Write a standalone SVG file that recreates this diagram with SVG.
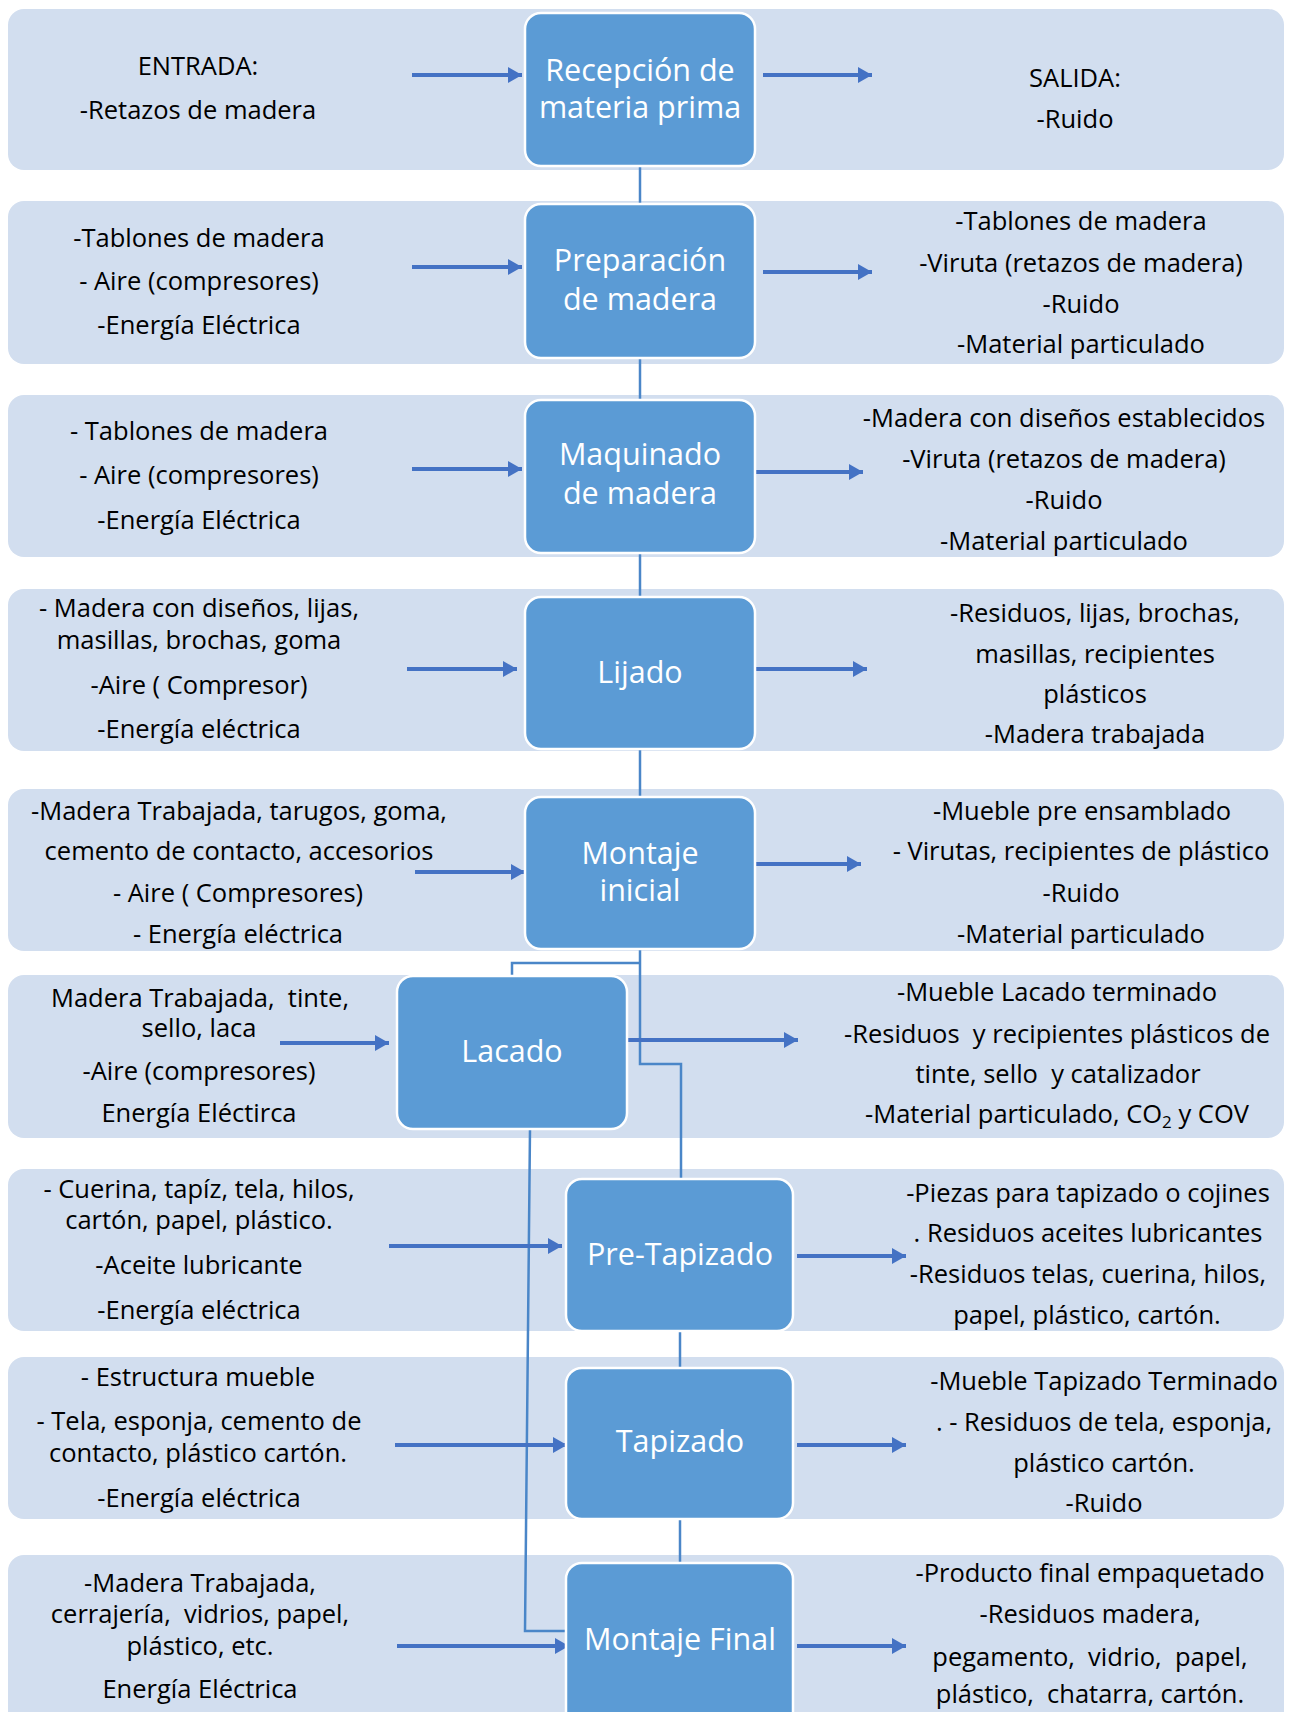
<svg xmlns="http://www.w3.org/2000/svg" width="1293" height="1712" viewBox="0 0 1293 1712" xml:space="preserve">
<style>
.band{fill:#D2DEEF}
.box{fill:#5B9BD5;stroke:#FFFFFF;stroke-width:2.5}
.t{font-family:"Open Sans","Liberation Sans",sans-serif;font-size:25.5px;fill:#000;text-anchor:middle;white-space:pre}
.b{font-family:"Open Sans","Liberation Sans",sans-serif;font-size:30.5px;fill:#FFFFFF;text-anchor:middle}
.ar{stroke:#4472C4;stroke-width:4;fill:none;marker-end:url(#ah)}
.cn{stroke:#4A86C8;stroke-width:2.5;fill:none}
</style>
<defs>
<marker id="ah" markerUnits="userSpaceOnUse" markerWidth="16" markerHeight="18" refX="14" refY="8" orient="auto">
<path d="M0,0 L14,8 L0,16 z" fill="#4472C4"/>
</marker>
<clipPath id="c4"><rect x="0" y="589" width="1293" height="160"/></clipPath>
</defs>
<rect width="1293" height="1712" fill="#FFFFFF"/>
<g id="bands">
<rect class="band" x="8" y="9" width="1276" height="161" rx="16"/>
<rect class="band" x="8" y="201" width="1276" height="163" rx="16"/>
<rect class="band" x="8" y="395" width="1276" height="162" rx="16"/>
<rect class="band" x="8" y="589" width="1276" height="162" rx="16"/>
<rect class="band" x="8" y="789" width="1276" height="162" rx="16"/>
<rect class="band" x="8" y="975" width="1276" height="163" rx="16"/>
<rect class="band" x="8" y="1169" width="1276" height="162" rx="16"/>
<rect class="band" x="8" y="1357" width="1276" height="162" rx="16"/>
<rect class="band" x="8" y="1555" width="1276" height="180" rx="16"/>
</g>
<g id="connectors">
<path class="cn" d="M640,166 V204"/>
<path class="cn" d="M640,358 V400"/>
<path class="cn" d="M640,553 V597"/>
<path class="cn" d="M640,749 V797"/>
<path class="cn" d="M640,949 V1064 H681 V1179"/>
<path class="cn" d="M640,963 H512 V976"/>
<path class="cn" d="M530,1129 L525,1631 H566"/>
<path class="cn" d="M680,1331 V1368"/>
<path class="cn" d="M680,1519 V1563"/>
<path class="ar" d="M412,75 H522"/>
<path class="ar" d="M763,75 H872"/>
<path class="ar" d="M412,267 H522"/>
<path class="ar" d="M763,272 H872"/>
<path class="ar" d="M412,469 H522"/>
<path class="ar" d="M755,472 H863"/>
<path class="ar" d="M407,669 H517"/>
<path class="ar" d="M756,669 H867"/>
<path class="ar" d="M415,872 H525"/>
<path class="ar" d="M753,864 H861"/>
<path class="ar" d="M280,1043 H389"/>
<path class="ar" d="M627,1040 H798"/>
<path class="ar" d="M389,1246 H562"/>
<path class="ar" d="M797,1256 H906"/>
<path class="ar" d="M395,1445 H567"/>
<path class="ar" d="M797,1445 H906"/>
<path class="ar" d="M397,1646 H569"/>
<path class="ar" d="M797,1646 H906"/>
</g>
<g id="n1">
<rect class="box" x="525" y="13" width="230" height="153" rx="16"/>
<text class="b" x="640" y="81">Recepción de</text>
<text class="b" x="640" y="118">materia prima</text>
</g>
<g id="in1">
<text class="t" x="198" y="75">ENTRADA:</text>
<text class="t" x="198" y="119">-Retazos de madera</text>
</g>
<g id="out1">
<text class="t" x="1075" y="87">SALIDA:</text>
<text class="t" x="1075" y="128">-Ruido</text>
</g>
<g id="n2">
<rect class="box" x="525" y="204" width="230" height="154" rx="16"/>
<text class="b" x="640" y="271">Preparación</text>
<text class="b" x="640" y="310">de madera</text>
</g>
<g id="in2">
<text class="t" x="199" y="247">-Tablones de madera</text>
<text class="t" x="199" y="290">- Aire (compresores)</text>
<text class="t" x="199" y="334">-Energía Eléctrica</text>
</g>
<g id="out2">
<text class="t" x="1081" y="230">-Tablones de madera</text>
<text class="t" x="1081" y="272">-Viruta (retazos de madera)</text>
<text class="t" x="1081" y="313">-Ruido</text>
<text class="t" x="1081" y="353">-Material particulado</text>
</g>
<g id="n3">
<rect class="box" x="525" y="400" width="230" height="153" rx="16"/>
<text class="b" x="640" y="465">Maquinado</text>
<text class="b" x="640" y="504">de madera</text>
</g>
<g id="in3">
<text class="t" x="199" y="440">- Tablones de madera</text>
<text class="t" x="199" y="484">- Aire (compresores)</text>
<text class="t" x="199" y="529">-Energía Eléctrica</text>
</g>
<g id="out3">
<text class="t" x="1064" y="427">-Madera con diseños establecidos</text>
<text class="t" x="1064" y="468">-Viruta (retazos de madera)</text>
<text class="t" x="1064" y="509">-Ruido</text>
<text class="t" x="1064" y="550">-Material particulado</text>
</g>
<g id="n4">
<rect class="box" x="525" y="597" width="230" height="152" rx="16"/>
<text class="b" x="640" y="683">Lijado</text>
</g>
<g id="in4">
<text class="t" x="199" y="617">- Madera con diseños, lijas,</text>
<text class="t" x="199" y="649">masillas, brochas, goma</text>
<text class="t" x="199" y="694">-Aire ( Compresor)</text>
<text class="t" x="199" y="738">-Energía eléctrica</text>
</g>
<g id="out4">
<text class="t" x="1095" y="622">-Residuos, lijas, brochas,</text>
<text class="t" x="1095" y="663">masillas, recipientes</text>
<text class="t" x="1095" y="703">plásticos</text>
<text class="t" x="1095" y="743" clip-path="url(#c4)">-Madera trabajada</text>
</g>
<g id="n5">
<rect class="box" x="525" y="797" width="230" height="152" rx="16"/>
<text class="b" x="640" y="864">Montaje</text>
<text class="b" x="640" y="901">inicial</text>
</g>
<g id="in5">
<text class="t" x="239" y="820">-Madera Trabajada, tarugos, goma,</text>
<text class="t" x="239" y="860">cemento de contacto, accesorios</text>
<text class="t" x="238" y="902">- Aire ( Compresores)</text>
<text class="t" x="238" y="943">- Energía eléctrica</text>
</g>
<g id="out5">
<text class="t" x="1082" y="820">-Mueble pre ensamblado</text>
<text class="t" x="1081" y="860">- Virutas, recipientes de plástico</text>
<text class="t" x="1081" y="902">-Ruido</text>
<text class="t" x="1081" y="943">-Material particulado</text>
</g>
<g id="n6">
<rect class="box" x="397" y="976" width="230" height="153" rx="16"/>
<text class="b" x="512" y="1062">Lacado</text>
</g>
<g id="in6">
<text class="t" x="200" y="1007">Madera Trabajada,  tinte,</text>
<text class="t" x="199" y="1037">sello, laca</text>
<text class="t" x="199" y="1080">-Aire (compresores)</text>
<text class="t" x="199" y="1122">Energía Eléctirca</text>
</g>
<g id="out6">
<text class="t" x="1057" y="1001">-Mueble Lacado terminado</text>
<text class="t" x="1057" y="1043">-Residuos  y recipientes plásticos de</text>
<text class="t" x="1058" y="1083">tinte, sello  y catalizador</text>
<text class="t" x="1057" y="1123">-Material particulado, CO<tspan font-size="17" dy="5">2</tspan><tspan dy="-5"> y COV</tspan></text>
</g>
<g id="n7">
<rect class="box" x="566" y="1179" width="227" height="152" rx="16"/>
<text class="b" x="680" y="1265">Pre-Tapizado</text>
</g>
<g id="in7">
<text class="t" x="199" y="1198">- Cuerina, tapíz, tela, hilos,</text>
<text class="t" x="199" y="1229">cartón, papel, plástico.</text>
<text class="t" x="199" y="1274">-Aceite lubricante</text>
<text class="t" x="199" y="1319">-Energía eléctrica</text>
</g>
<g id="out7">
<text class="t" x="1088" y="1202">-Piezas para tapizado o cojines</text>
<text class="t" x="1088" y="1242">. Residuos aceites lubricantes</text>
<text class="t" x="1088" y="1283">-Residuos telas, cuerina, hilos,</text>
<text class="t" x="1087" y="1324">papel, plástico, cartón.</text>
</g>
<g id="n8">
<rect class="box" x="566" y="1368" width="227" height="151" rx="16"/>
<text class="b" x="680" y="1452">Tapizado</text>
</g>
<g id="in8">
<text class="t" x="198" y="1386">- Estructura mueble</text>
<text class="t" x="199" y="1430">- Tela, esponja, cemento de</text>
<text class="t" x="198" y="1462">contacto, plástico cartón.</text>
<text class="t" x="199" y="1507">-Energía eléctrica</text>
</g>
<g id="out8">
<text class="t" x="1104" y="1390">-Mueble Tapizado Terminado</text>
<text class="t" x="1104" y="1431">. - Residuos de tela, esponja,</text>
<text class="t" x="1104" y="1472">plástico cartón.</text>
<text class="t" x="1104" y="1512">-Ruido</text>
</g>
<g id="n9">
<rect class="box" x="566" y="1563" width="227" height="170" rx="16"/>
<text class="b" x="680" y="1650">Montaje Final</text>
</g>
<g id="in9">
<text class="t" x="200" y="1592">-Madera Trabajada,</text>
<text class="t" x="200" y="1623">cerrajería,  vidrios, papel,</text>
<text class="t" x="200" y="1655">plástico, etc.</text>
<text class="t" x="200" y="1698">Energía Eléctrica</text>
</g>
<g id="out9">
<text class="t" x="1090" y="1582">-Producto final empaquetado</text>
<text class="t" x="1090" y="1623">-Residuos madera,</text>
<text class="t" x="1090" y="1666">pegamento,  vidrio,  papel,</text>
<text class="t" x="1090" y="1703">plástico,  chatarra, cartón.</text>
</g>
</svg>
